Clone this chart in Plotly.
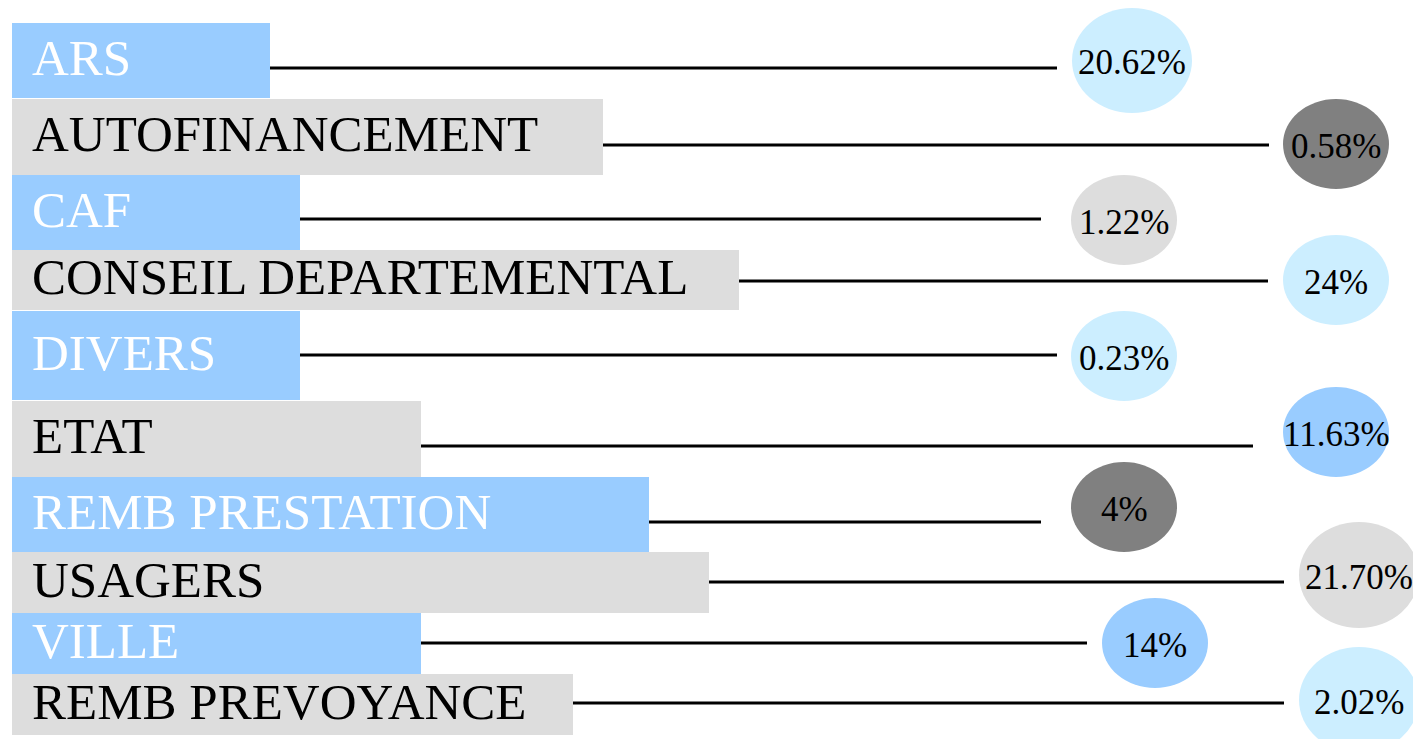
import plotly.graph_objects as go

# ---- data ----
categories = ["ARS", "AUTOFINANCEMENT", "CAF", "CONSEIL DEPARTEMENTAL", "DIVERS",
              "ETAT", "REMB PRESTATION", "USAGERS", "VILLE", "REMB PREVOYANCE"]
shares = ["20.62%", "0.58%", "1.22%", "24%", "0.23%",
          "11.63%", "4%", "21.70%", "14%", "2.02%"]

# ---- layout geometry (pixel-like axis units) ----
row_top = [23, 99, 175, 250, 311, 401, 477, 552, 613, 674]
row_bottom = [98, 175, 250, 310, 400, 477, 552, 613, 674, 735]
bar_start = 12
bar_end = [270, 603, 300, 739, 300, 421, 649, 709, 421, 573]
line_y = [68, 145, 219, 281, 355, 446, 522, 582, 643, 703]
line_end = [1057, 1269, 1041, 1268, 1057, 1253, 1041, 1284, 1087, 1284]
bubble_x = [1132, 1336, 1124, 1336, 1124, 1336, 1124, 1359, 1155, 1359]
bubble_y = [60.5, 144, 220, 280, 356, 432, 507, 575, 643, 700]
bubble_rx = [60, 53, 53, 53, 53, 53, 53, 60, 53, 60]
bubble_ry = [52.5, 45, 45, 45, 45, 45, 45, 53, 45, 53]

# ---- styles ----
bar_colors = ["#99CCFF", "#DDDDDD"] * 5
label_colors = ["#FFFFFF", "#000000"] * 5
bubble_colors = ["#CCEEFF", "#808080", "#DDDDDD", "#CCEEFF", "#CCEEFF",
                 "#99CCFF", "#808080", "#DDDDDD", "#99CCFF", "#CCEEFF"]
FONT = "Liberation Serif"
OFFSET = 8  # page body margin

centers = [(t + b) / 2 for t, b in zip(row_top, row_bottom)]
heights = [b - t for t, b in zip(row_top, row_bottom)]

fig = go.Figure()

fig.add_trace(go.Bar(
    orientation="h",
    y=centers,
    x=[e - bar_start for e in bar_end],
    base=bar_start,
    width=heights,
    marker=dict(color=bar_colors, line=dict(width=0)),
    hoverinfo="skip",
    showlegend=False,
))

lx, ly = [], []
for s, e, y in zip(bar_end, line_end, line_y):
    lx += [s, e, None]
    ly += [y, y, None]
fig.add_trace(go.Scatter(x=lx, y=ly, mode="lines",
                         line=dict(color="#000000", width=3),
                         hoverinfo="skip", showlegend=False))

shapes = []
for cx, cy, rx, ry, c in zip(bubble_x, bubble_y, bubble_rx, bubble_ry, bubble_colors):
    shapes.append(dict(type="circle", xref="x", yref="y",
                       x0=cx - rx, x1=cx + rx, y0=cy - ry, y1=cy + ry,
                       fillcolor=c, line=dict(width=0), layer="above"))

annotations = []
for cat, c, yc in zip(categories, label_colors, centers):
    annotations.append(dict(x=bar_start + 18, y=yc - 3, xref="x", yref="y",
                            text=cat, showarrow=False, xanchor="left", yanchor="middle",
                            font=dict(family=FONT, size=51, color=c)))
for s, cx, cy in zip(shares, bubble_x, bubble_y):
    annotations.append(dict(x=cx, y=cy + 2, xref="x", yref="y",
                            text=s, showarrow=False, xanchor="center", yanchor="middle",
                            font=dict(family=FONT, size=35, color="#000000")))

W, H = 1421, 739
fig.update_layout(
    width=W - OFFSET, height=H - OFFSET,
    margin=dict(l=0, r=0, t=0, b=0),
    paper_bgcolor="#FFFFFF", plot_bgcolor="#FFFFFF",
    xaxis=dict(range=[OFFSET, W], visible=False, fixedrange=True),
    yaxis=dict(range=[H, OFFSET], visible=False, fixedrange=True),
    shapes=shapes,
    annotations=annotations,
    bargap=0,
)

fig.write_html("out.html", config={"displayModeBar": False})
